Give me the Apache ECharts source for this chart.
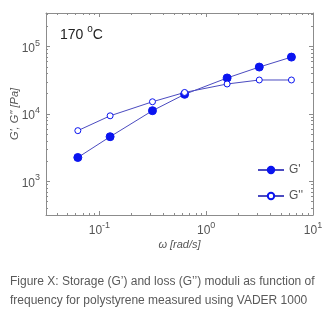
<!DOCTYPE html>
<html>
<head>
<meta charset="utf-8">
<script src="https://cdn.jsdelivr.net/npm/echarts@6/dist/echarts.min.js"></script>
<style>
html,body{margin:0;padding:0;background:#fff;}
#chart{width:325px;height:327px;}
</style>
</head>
<body>
<div id="chart"></div>
<script>
// ---- data ----
var omega = [0.0628, 0.126, 0.314, 0.628, 1.57, 3.14, 6.28];
var gPrime = [2260, 4600, 11200, 19600, 34300, 49800, 70000];
var gDoublePrime = [5660, 9400, 15200, 20900, 27900, 32000, 32000];
var xMajorTicks = [0.1, 1, 10];
var yMajorTicks = [1000, 10000, 100000];
var xMinorTicks = [0.04,0.05,0.06,0.07,0.08,0.09,0.2,0.3,0.4,0.5,0.6,0.7,0.8,0.9,2,3,4,5,6,7,8,9];
var yMinorTicks = [400,500,600,700,800,900,2000,3000,4000,5000,6000,7000,8000,9000,20000,30000,40000,50000,60000,70000,80000,90000,200000,300000];
var seriesNames = ["G'", "G''"];
var xName = "\u03c9 [rad/s]";
var yName = "G', G'' [Pa]";
var annotation = "170";
var captionLines = [
  "Figure X: Storage (G\u2019) and loss (G\u2019\u2019) moduli as function of",
  "frequency for polystyrene measured using VADER 1000"
];

var xMin = Math.pow(10, -1.5), xMax = 10;
var yMin = Math.pow(10, 2.5), yMax = Math.pow(10, 5.5);

function pts(xs, ys){ return xs.map(function(x,i){ return [x, ys[i]]; }); }

var frameColor = '#8c8c8c';
var labelColor = '#555';
var fontFam = '"Liberation Sans", Arial, sans-serif';

function powLabel(v){
  var e = Math.round(Math.log10(v));
  return '{b|10}{e|' + e + '}';
}
var rich = {
  b: {fontSize: 12, color: labelColor, fontFamily: fontFam, verticalAlign: 'bottom', lineHeight: 16},
  e: {fontSize: 9, color: labelColor, fontFamily: fontFam, verticalAlign: 'top', lineHeight: 16}
};

function xAx(pos, major, withLabel){
  var a = {
    type: 'log', min: xMin, max: xMax, position: pos, logBase: 10,
    axisLine: {show: major, onZero: false, lineStyle: {color: frameColor, width: 1}},
    axisTick: {show: true, inside: true, length: major ? 4 : 2,
      customValues: major ? xMajorTicks : xMinorTicks,
      lineStyle: {color: frameColor, width: 1}},
    axisLabel: {show: false},
    splitLine: {show: false}, minorTick: {show: false}, minorSplitLine: {show: false}
  };
  if (withLabel){
    a.axisLabel = {show: true, customValues: xMajorTicks, formatter: powLabel, rich: rich, margin: 6};
    a.name = xName; a.nameLocation = 'middle'; a.nameGap = 24; a.nameMoveOverlap = false;
    a.nameTextStyle = {fontStyle: 'italic', fontSize: 11, color: labelColor, fontFamily: fontFam};
  }
  return a;
}
function yAx(pos, major, withLabel){
  var a = {
    type: 'log', min: yMin, max: yMax, position: pos, logBase: 10,
    axisLine: {show: major, onZero: false, lineStyle: {color: frameColor, width: 1}},
    axisTick: {show: true, inside: true, length: major ? 4 : 2,
      customValues: major ? yMajorTicks : yMinorTicks,
      lineStyle: {color: frameColor, width: 1}},
    axisLabel: {show: false},
    splitLine: {show: false}, minorTick: {show: false}, minorSplitLine: {show: false}
  };
  if (withLabel){
    a.axisLabel = {show: true, customValues: yMajorTicks, formatter: powLabel, rich: rich, margin: 6};
    a.name = yName; a.nameLocation = 'middle'; a.nameGap = 26; a.nameMoveOverlap = false;
    a.nameTextStyle = {fontStyle: 'italic', fontSize: 11, color: labelColor, fontFamily: fontFam};
  }
  return a;
}

var lineColor = '#4b4bc0';
var markColor = '#0a14f0';

var chart = echarts.init(document.getElementById('chart'), null, {renderer: 'canvas'});
chart.setOption({
  animation: false,
  backgroundColor: '#fff',
  textStyle: {fontFamily: fontFam},
  grid: {left: 46, right: 12, top: 13, bottom: 112, outerBoundsMode: 'none', containLabel: false},
  xAxis: [xAx('bottom', true, true), xAx('bottom', false, false), xAx('top', true, false), xAx('top', false, false)],
  yAxis: [yAx('left', true, true), yAx('left', false, false), yAx('right', true, false), yAx('right', false, false)],
  legend: {
    orient: 'vertical', left: 257, top: 164, padding: 0, itemWidth: 26, itemHeight: 8, itemGap: 14,
    textStyle: {fontSize: 12, color: labelColor, fontFamily: fontFam},
    data: seriesNames
  },
  series: [
    {name: seriesNames[0], type: 'line', data: pts(omega, gPrime), symbol: 'circle', symbolSize: 8,
     lineStyle: {color: lineColor, width: 1}, itemStyle: {color: markColor, borderColor: markColor, borderWidth: 1}},
    {name: seriesNames[1], type: 'line', data: pts(omega, gDoublePrime), symbol: 'circle', symbolSize: 6,
     lineStyle: {color: lineColor, width: 1}, itemStyle: {color: '#fff', borderColor: markColor, borderWidth: 1}}
  ],
  graphic: [
    {type: 'text', left: 60, top: 24, style: {
      text: '{n|' + annotation + ' }{s|o}{n|C}',
      rich: {
        n: {fontSize: 14, fill: '#222', fontFamily: fontFam, verticalAlign: 'bottom', lineHeight: 18},
        s: {fontSize: 10, fill: '#222', fontFamily: fontFam, verticalAlign: 'top', lineHeight: 18}
      }}},
    {type: 'text', left: 10, top: 276, style: {text: captionLines[0], fontSize: 12, fill: '#595959', fontFamily: fontFam}},
    {type: 'text', left: 10, top: 295, style: {text: captionLines[1], fontSize: 12, fill: '#595959', fontFamily: fontFam}}
  ]
});
</script>
</body>
</html>
